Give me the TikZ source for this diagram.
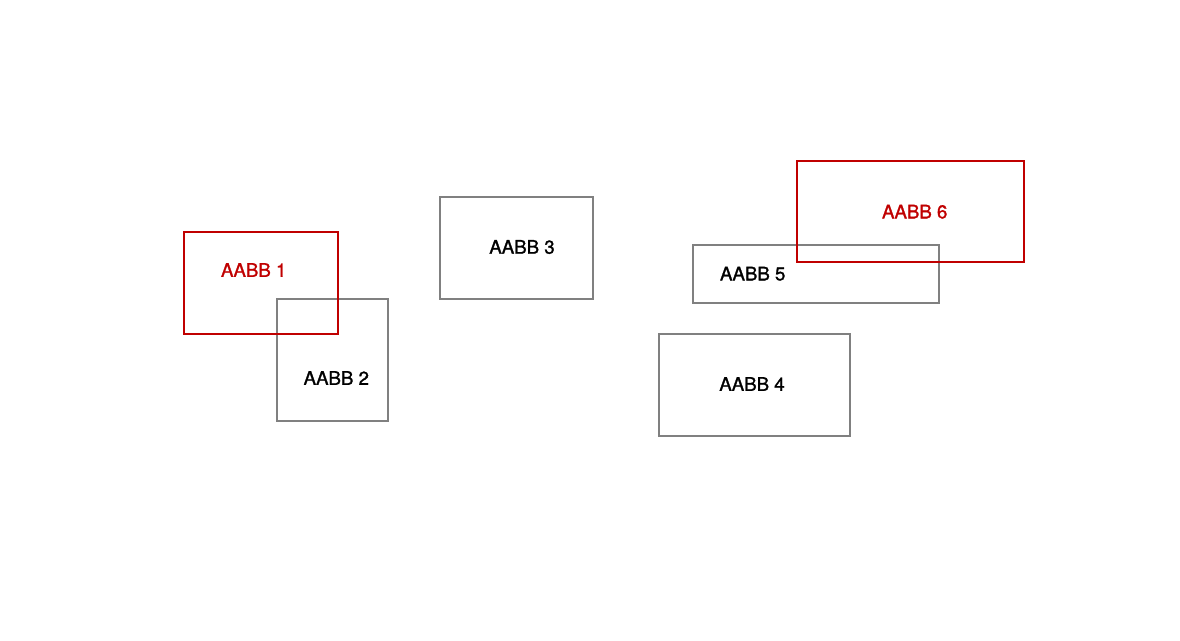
\documentclass[tikz,border=0pt]{standalone}
\usepackage{fontspec}
\setmainfont{TeX Gyre Heros}
\newfontfamily\lblfont[FakeBold=1.4]{TeX Gyre Heros}
\definecolor{boxred}{RGB}{192,0,0}
\definecolor{boxgray}{RGB}{128,128,128}
\begin{document}
\begin{tikzpicture}[x=0.75pt,y=-0.75pt,
  aabb/.style={draw=boxgray,line width=1.5pt},
  hit/.style={draw=boxred,line width=1.5pt},
  lbl/.style={inner sep=0pt,font=\lblfont\fontsize{14pt}{16pt}\selectfont,text=black},
  hitlbl/.style={lbl,text=boxred}]
\useasboundingbox (0,0) rectangle (1180,640);
% axis-aligned bounding boxes
\draw[aabb] (276.7,299.3) rectangle (388.3,421.3);
\draw[aabb] (440,197) rectangle (593,299);
\draw[aabb] (659,334) rectangle (850,436);
\draw[aabb] (692.7,245) rectangle (938.7,303.3);
% colliding boxes
\draw[hit] (184.3,232.3) rectangle (338,333.7);
\draw[hit] (796.7,161) rectangle (1024.3,262.3);
% labels
\node[hitlbl] (t1) at (253.7,270) {AABB 1};
\node[lbl] (t2) at (336.3,378) {AABB 2};
\node[lbl] (t3) at (522,247) {AABB 3};
\node[lbl] (t4) at (752,384) {AABB 4};
\node[lbl] (t5) at (752.7,273.7) {AABB 5};
\node[hitlbl] (t6) at (914.7,211.7) {AABB 6};
\end{tikzpicture}
\end{document}
